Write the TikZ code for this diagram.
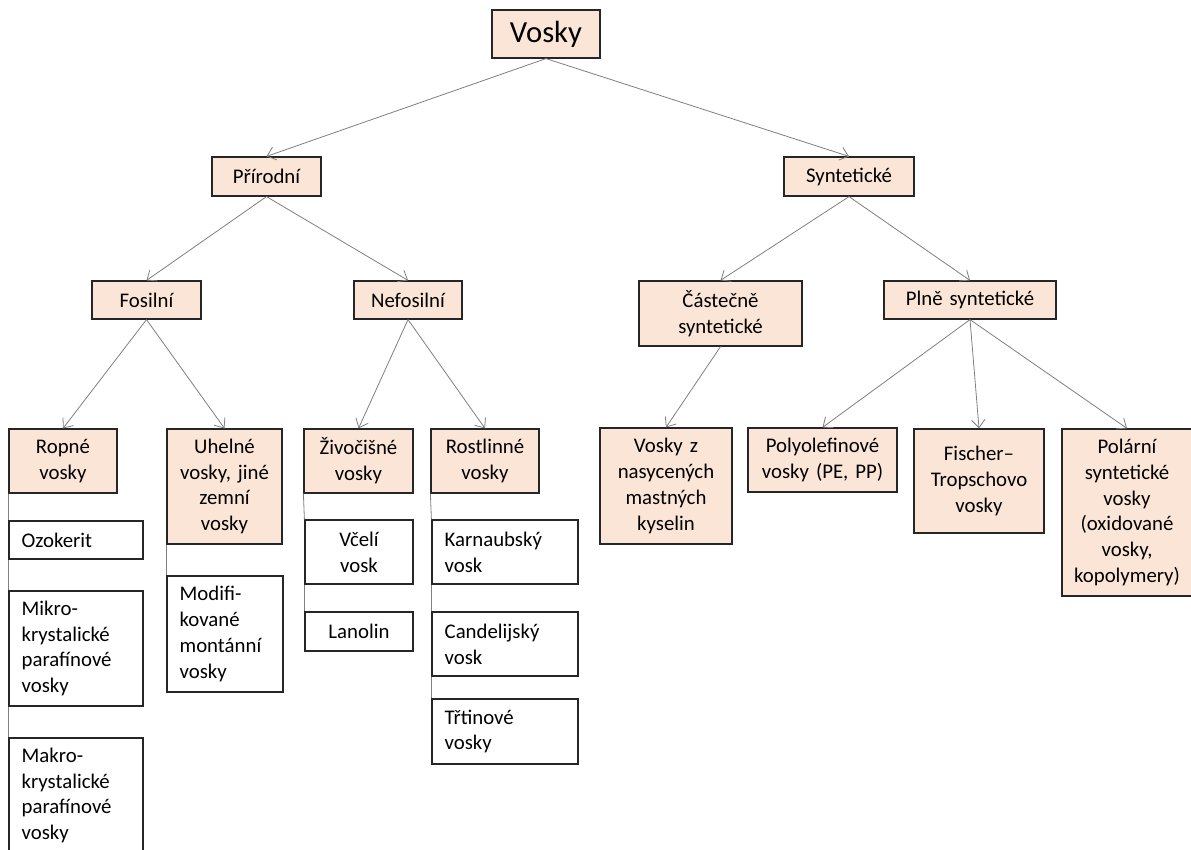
\documentclass[tikz,border=0pt]{standalone}
\usepackage{fontspec}
\setmainfont{Carlito}
\usetikzlibrary{arrows.meta}
\definecolor{boxfill}{HTML}{FBE5D6}
\definecolor{conncol}{HTML}{7F7F7F}
\definecolor{edgecol}{HTML}{262626}
\newcommand\mybox[8][5]{%
 \pgfmathsetmacro\mytw{(#5-#3)*0.75-2*#1}%
 \pgfmathsetmacro\mymh{(#6-#4)*0.75}%
 \node[#7, inner xsep=#1pt, text width=\mytw pt, minimum height=\mymh pt] (#2) at ({(#3+#5)/2},{(#4+#6)/2}) {#8};}
\tikzset{
 basebox/.style={draw=edgecol, line width=0.9pt, inner ysep=2pt,
   font=\fontsize{15.6}{19.4}\selectfont},
 obox/.style={basebox, fill=boxfill, align=center},
 wbox/.style={basebox, fill=white, align=left},
 wcbox/.style={basebox, fill=white, align=center},
 conn/.style={draw=conncol, line width=0.6pt, -{Straight Barb[length=6pt,width=10pt]}},
 vline/.style={draw=conncol, line width=0.6pt},
}
\begin{document}
\begin{tikzpicture}[x=0.75pt,y=-0.75pt]
\useasboundingbox (0,0) rectangle (1191,849);
% level 1
\mybox{vosky}{492}{10}{600}{58}{obox,font=\fontsize{23}{27}\selectfont}{Vosky}
% level 2
\mybox{prir}{212}{157}{321}{196}{obox}{Přírodní}
\mybox{synt}{784}{157}{914}{196}{obox}{Syntetické}
% level 3
\mybox{fos}{92}{281}{201}{319}{obox}{Fosilní}
\mybox{nefos}{354}{281}{462}{319}{obox}{Nefosilní}
\mybox{cast}{639}{281}{802}{346}{obox}{Částečně\\syntetické}
\mybox{plne}{884}{281}{1056}{319}{obox}{Plně syntetické}
% level 4
\mybox{ropne}{9}{429}{117}{493}{obox}{Ropné\\vosky}
\mybox{uhel}{167}{429}{282}{544}{obox}{Uhelné\\vosky, jiné\\zemní\\vosky}
\mybox{ziv}{304}{429}{413}{493}{obox}{Živočišné\\vosky}
\mybox{rost}{431}{429}{539}{493}{obox}{Rostlinné\\vosky}
\mybox{nasyc}{600}{428}{732}{544}{obox}{Vosky z\\nasycených\\mastných\\kyselin}
\mybox{polyol}{748}{428}{897}{492}{obox}{Polyolefinové\\vosky (PE, PP)}
\mybox{fisch}{914}{429}{1044}{533}{obox}{Fischer–\\Tropschovo\\vosky}
\mybox{polar}{1062}{429}{1192}{596}{obox}{Polární\\syntetické\\vosky\\(oxidované\\vosky,\\kopolymery)}
% white boxes
\mybox[9.5]{ozok}{9}{521}{143}{559}{wbox}{Ozokerit}
\mybox[9.5]{mikro}{9}{591}{143}{706}{wbox}{Mikro-\\krystalické\\parafínové\\vosky}
\mybox[9.5]{makro}{9}{738}{143}{853}{wbox}{Makro-\\krystalické\\parafínové\\vosky}
\mybox[9.5]{modif}{167}{576}{283}{692}{wbox}{Modifi-\\kované\\montánní\\vosky}
\mybox{vceli}{305}{520}{413}{584}{wcbox}{Včelí\\vosk}
\mybox{lanol}{305}{612}{413}{651}{wcbox}{Lanolin}
\mybox[9.5]{karn}{432}{520}{578}{584}{wbox}{Karnaubský\\vosk}
\mybox[9.5]{cand}{432}{612}{578}{676}{wbox}{Candelijský\\vosk}
\mybox[9.5]{trt}{432}{699}{578}{764}{wbox}{Třtinové\\vosky}
% connectors
\draw[conn] (vosky.south) -- (prir.north);
\draw[conn] (vosky.south) -- (synt.north);
\draw[conn] (prir.south) -- (fos.north);
\draw[conn] (prir.south) -- (nefos.north);
\draw[conn] (synt.south) -- (cast.north);
\draw[conn] (synt.south) -- (plne.north);
\draw[conn] (fos.south) -- (ropne.north);
\draw[conn] (fos.south) -- (uhel.north);
\draw[conn] (nefos.south) -- (ziv.north);
\draw[conn] (nefos.south) -- (rost.north);
\draw[conn] (cast.south) -- (nasyc.north);
\draw[conn] (plne.south) -- (polyol.north);
\draw[conn] (plne.south) -- (fisch.north);
\draw[conn] (plne.south) -- (polar.north);
% vertical lines to white boxes
\draw[vline] (ropne.south west) -- (ozok.north west);
\draw[vline] (ozok.south west) -- (mikro.north west);
\draw[vline] (mikro.south west) -- (makro.north west);
\draw[vline] (uhel.south west) -- (modif.north west);
\draw[vline] (ziv.south west) -- (vceli.north west);
\draw[vline] (vceli.south west) -- (lanol.north west);
\draw[vline] (rost.south west) -- (karn.north west);
\draw[vline] (karn.south west) -- (cand.north west);
\draw[vline] (cand.south west) -- (trt.north west);
\end{tikzpicture}
\end{document}
